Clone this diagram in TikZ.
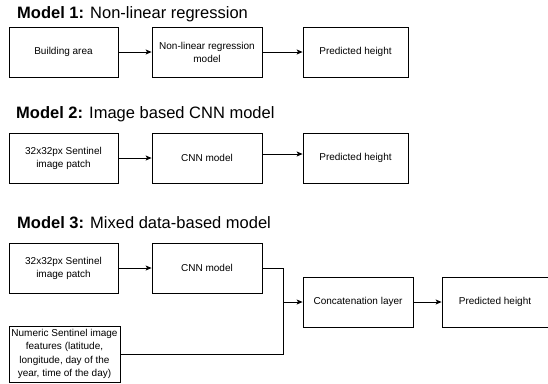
\documentclass[tikz,border=0pt]{standalone}
\usepackage{fontspec}
\setmainfont{Liberation Sans}
\usetikzlibrary{arrows.meta}
\begin{document}
\begin{tikzpicture}[x=1pt,y=-1pt,
  box/.style={draw=black, line width=0.8pt, rectangle, inner sep=0pt, align=center,
    font=\fontsize{10}{13}\selectfont},
  ttl/.style={anchor=base west, inner sep=0pt, font=\fontsize{16.5}{19}\selectfont},
  arr/.style={line width=0.8pt, -{Stealth[length=6pt,width=5pt,inset=1.5pt]}},
  ln/.style={line width=0.8pt}]
\useasboundingbox (0,0) rectangle (548,383);
% Model 1
\node[ttl] (t1) at (17,18) {\textbf{Model 1:} Non-linear regression};
\node[box, minimum width=109pt, minimum height=50pt] (a1) at (63.5,52) {Building area};
\node[box, minimum width=110pt, minimum height=50pt] (b1) at (207,52) {Non-linear regression\\model};
\node[box, minimum width=105pt, minimum height=50pt] (c1) at (355.5,52) {Predicted height};
\draw[arr] (a1) -- (b1);
\draw[arr] (b1) -- (c1);
% Model 2
\node[ttl] (t2) at (16,118) {\textbf{Model 2:} Image based CNN model};
\node[box, minimum width=109pt, minimum height=50pt] (a2) at (63.5,158) {32x32px Sentinel\\image patch};
\node[box, minimum width=110pt, minimum height=50pt] (b2) at (207,158) {CNN model};
\node[box, minimum width=105pt, minimum height=50pt] (c2) at (355.5,158) {Predicted height};
\draw[arr] (a2) -- (b2);
\draw[arr] ([yshift=4pt]b2.east) -- ([yshift=4pt]c2.west);
% Model 3
\node[ttl] (t3) at (17,228) {\textbf{Model 3:} Mixed data-based model};
\node[box, minimum width=109pt, minimum height=50pt] (a3) at (63.5,268) {32x32px Sentinel\\image patch};
\node[box, minimum width=110pt, minimum height=50pt] (b3) at (207,268) {CNN model};
\node[box, minimum width=111pt, minimum height=56pt, font=\fontsize{10}{13.3}\selectfont] (d3) at (64.5,354) {Numeric Sentinel image\\features (latitude,\\longitude, day of the\\year, time of the day)};
\node[box, minimum width=110pt, minimum height=50pt] (e3) at (358,302) {Concatenation layer};
\node[box, minimum width=106pt, minimum height=50pt] (f3) at (495,302) {Predicted height};
\coordinate (j) at (283,302);
\draw[arr] (a3) -- (b3);
\draw[ln] (b3.east) -| (j);
\draw[ln] (d3.east) -| (j);
\draw[arr] (j) -- (e3.west);
\draw[arr] (e3) -- (f3);
\end{tikzpicture}
\end{document}
